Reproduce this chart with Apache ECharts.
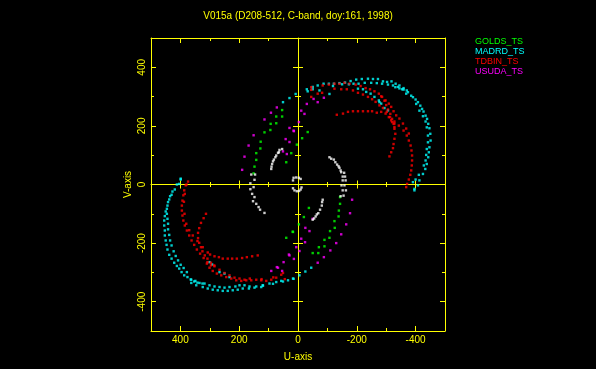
<!DOCTYPE html>
<html><head><meta charset="utf-8">
<script src="https://cdn.jsdelivr.net/npm/echarts@6/dist/echarts.min.js"></script>
<style>html,body{margin:0;padding:0;background:#000;}#c{width:596px;height:369px;}</style>
</head><body><div id="c"></div>
<script>
const titleText = 'V015a (D208-512, C-band, doy:161, 1998)';
const stationNames = ['GOLDS_TS', 'MADRD_TS', 'TDBIN_TS', 'USUDA_TS'];
const majorTicks = [-400, -200, 0, 200, 400];
const minorTicks = [-300, -100, 100, 300];

// GOLDS_TS (green) u,v
const goldsUpper = [[54,254],[54,232],[74,232],[74,209],[93,207],[94,186],[114,178],[127,146],[128,123],[142,107],[142,84],[148,61],[151,38],[4,136],[23,107],[40,76],[-14,158],[-33,179]];
const goldsLower = [[-143,-43],[-143,-66],[-139,-89],[-138,-109],[-124,-125],[-125,-148],[-109,-159],[-107,-182],[-90,-189],[-90,-211],[-71,-214],[-69,-234],[-50,-234],[-37,-80],[-20,-111],[-3,-136],[18,-161],[40,-182],[17,-162]];

// MADRD_TS (cyan)
const madrdUpperA = [[51,281],[29,295],[8,309],[-30,325],[-50,333],[-67,338],[-87,344],[-105,344],[-122,344],[-141,346],[-160,348],[-179,353],[-198,358],[-217,360],[-238,361],[-255,360],[-272,360],[-289,352],[-303,350],[-318,352],[-332,344],[-345,338],[-359,329],[-370,321],[-374,315],[-385,303],[-391,298],[-400,290],[-408,281],[-416,269],[-422,258],[-427,249],[-434,235],[-439,224],[-443,207],[-447,192],[-450,173],[-451,150],[-447,127],[-445,110],[-443,93],[-438,70],[-433,53],[-425,36],[-411,33],[-400,17],[-408,-3],[-396,-20]];
const madrdUpperB = [[-50,325],[-119,336],[-150,342],[-173,342],[-189,344],[-206,344],[-227,347],[-249,347],[-268,346],[-286,344],[-306,341],[-323,338],[-340,333],[-354,325],[-368,310],[-331,332],[-345,328],[-359,324],[-402,275],[-413,252],[-425,233],[-434,215],[-438,195],[-442,167],[-442,144],[-438,121],[-436,101],[-434,82],[-428,65],[-413,14],[-391,8],[-396,-15]];
const madrdUpperC = [[-33,318],[-73,321],[-107,309],[-204,327],[-221,325],[-232,316],[-247,310],[-260,299],[-275,287],[-283,276],[-294,261],[-306,253],[-277,281]];
const madrdLowerA = [[399,20],[412,0],[399,17],[404,2],[419,-17],[430,-35],[438,-51],[444,-72],[450,-92],[453,-108],[455,-123],[455,-140],[453,-157],[453,-174],[450,-191],[447,-206],[444,-222],[438,-240],[430,-253],[421,-267],[412,-278],[404,-287],[396,-299],[387,-310],[376,-316],[365,-324],[353,-331],[342,-335],[325,-338],[363,-336],[346,-344],[324,-350],[307,-355],[290,-359],[273,-361],[256,-363],[239,-363],[222,-361],[205,-359],[188,-355],[167,-355],[148,-352],[125,-350],[119,-345],[85,-339],[51,-331],[15,-322],[-5,-310],[-25,-297],[-45,-284]];
const madrdLowerB = [[427,-24],[435,-40],[442,-60],[446,-83],[446,-100],[444,-117],[442,-134],[442,-153],[438,-172],[435,-191],[430,-208],[423,-228],[416,-244],[408,-259],[399,-274],[389,-285],[378,-299],[363,-325],[349,-329],[335,-336],[318,-338],[301,-344],[284,-348],[267,-350],[250,-352],[233,-350],[213,-348],[199,-344],[182,-344],[165,-348],[142,-348],[120,-344],[97,-338],[74,-333],[57,-329],[34,-327],[17,-321]];
const madrdLowerC = [[301,-265],[292,-273],[267,-299],[250,-304],[233,-316]];

// TDBIN_TS (red)
const tdbinUpper1 = [[-45,332],[-84,338],[-105,341],[-124,344],[-141,344],[-158,347],[-175,344],[-196,341],[-213,336],[-230,329],[-245,325],[-260,318],[-275,310],[-286,299],[-298,287],[-309,276],[-317,265],[-325,250],[-334,236],[-345,225],[-357,208],[-368,191],[-377,174],[-328,215],[-343,201],[-359,184],[-370,167],[-377,150],[-383,133],[-386,116],[-388,99],[-388,82],[-387,65],[-385,48],[-382,33],[-377,17],[-371,2],[-368,-9]];
const tdbinUpper2 = [[-45,323],[-45,299],[-67,310],[-82,313],[-124,327],[-147,325],[-166,325],[-187,321],[-204,313],[-221,307],[-238,299],[-252,291],[-264,282],[-277,270],[-289,261],[-302,248],[-313,230],[-320,213],[-328,196],[-283,301],[-294,286],[-300,271],[-306,256],[-314,241],[-320,224],[-325,207],[-328,190],[-331,173],[-328,156],[-325,138],[-323,124],[-317,110],[-311,96]];
const tdbinUpper3 = [[-132,238],[-153,242],[-170,248],[-187,250],[-204,250],[-221,250],[-238,250],[-252,250],[-268,245],[-283,248],[-298,242],[-309,230],[-317,219],[-328,208]];
const tdbinLower1 = [[374,10],[382,-3],[387,-20],[390,-37],[393,-55],[395,-72],[395,-89],[393,-106],[390,-123],[385,-140],[378,-157],[370,-174],[362,-191],[353,-206],[344,-222],[333,-236],[321,-251],[308,-265],[296,-276],[310,-270],[301,-284],[290,-295],[276,-304],[261,-310],[244,-316],[227,-321],[210,-327],[193,-329],[176,-327],[159,-327],[142,-325],[125,-327],[108,-329],[91,-325],[74,-318],[57,-308]];
const tdbinLower2 = [[313,-100],[321,-115],[330,-131],[336,-149],[340,-165],[340,-183],[336,-199],[330,-214],[325,-228],[317,-242],[308,-253],[296,-267],[285,-276],[284,-279],[267,-291],[250,-302],[233,-310],[216,-318],[199,-321],[182,-325],[164,-321],[124,-323],[84,-317],[45,-323],[51,-302]];
const tdbinLower3 = [[379,0],[385,-32],[388,-59],[386,-100],[380,-134],[370,-156],[358,-174],[342,-193],[324,-214],[307,-232],[299,-239],[284,-245],[269,-248],[256,-253],[239,-253],[224,-253],[208,-253],[190,-251],[174,-248],[156,-245],[137,-242]];

// USUDA_TS (magenta)
const usudaUpper = [[72,263],[92,245],[114,222],[151,168],[168,133],[182,95],[190,50],[29,193],[14,182],[42,155],[29,145],[51,113],[38,104],[-53,292],[-67,281],[-88,296],[-30,275],[-22,241],[-11,252],[-3,213],[15,184]];
const usudaLower = [[-184,-52],[-177,-98],[-164,-136],[-147,-170],[-130,-200],[-110,-225],[-88,-248],[-67,-267],[-50,-117],[-39,-159],[-25,-148],[-11,-185],[-24,-197],[-5,-227],[14,-254],[29,-242],[49,-265],[31,-239],[6,-214],[91,-295],[68,-284],[54,-295],[72,-282]];

// other baselines (white)
const otherUpperRight = [[-107,93],[-113,88],[-122,85],[-127,76],[-133,68],[-138,62],[-141,57],[-145,48],[-147,42],[-157,40],[-152,27],[-160,27],[-152,14],[-162,14],[-158,-3],[-148,-3],[-152,-20],[-163,-20],[-155,-38],[-145,-40]];
const otherUpperLeft = [[54,121],[63,118],[65,110],[68,108],[74,99],[77,93],[82,85],[85,79],[88,70],[90,61],[91,53]];
const otherLowerLeft = [[159,34],[146,34],[148,16],[162,4],[151,-9],[162,-16],[156,-32],[148,-43],[153,-57],[142,-66],[134,-77],[129,-86],[114,-97]];
const otherLowerRight = [[-84,-52],[-82,-60],[-81,-72],[-75,-86],[-69,-98],[-64,-102],[-60,-109],[-55,-116],[-50,-120]];
const otherCentre = [[15,23],[6,24],[-3,23],[-9,19],[17,14],[17,-13],[12,-20],[4,-23],[-4,-22],[-9,-17],[-12,-10]];

const COLORS = { GOLDS_TS: '#00ff00', MADRD_TS: '#00ffff', TDBIN_TS: '#ff0000', USUDA_TS: '#ff00ff', other: '#ffffff' };
const YEL = '#ffff00';
const FONT = 'Liberation Sans';

const seriesData = {
  GOLDS_TS: goldsUpper.concat(goldsLower),
  MADRD_TS: madrdUpperA.concat(madrdUpperB, madrdUpperC, madrdLowerA, madrdLowerB, madrdLowerC),
  TDBIN_TS: tdbinUpper1.concat(tdbinUpper2, tdbinUpper3, tdbinLower1, tdbinLower2, tdbinLower3),
  USUDA_TS: usudaUpper.concat(usudaLower),
  other: otherUpperRight.concat(otherUpperLeft, otherLowerLeft, otherLowerRight, otherCentre)
};

function makeAxis(dim, position, ticks, len, inside, lineShow, onZero, withLabels) {
  const a = {
    type: 'value', min: -500, max: 500, gridIndex: 0, position: position,
    inverse: dim === 'x',
    splitLine: { show: false },
    axisLine: { show: lineShow, onZero: onZero, lineStyle: { color: YEL, width: 1 } },
    axisTick: { show: true, inside: inside, length: len, customValues: ticks, lineStyle: { color: YEL, width: 1 } },
    axisLabel: { show: false }
  };
  if (onZero) a.axisLine.onZeroAxisIndex = 0;
  if (withLabels) {
    a.axisLabel = { show: true, customValues: majorTicks, color: YEL, fontFamily: FONT, fontSize: 10, margin: 4 };
    if (dim === 'y') { a.axisLabel.rotate = 90; }
    a.name = dim === 'x' ? 'U-axis' : 'V-axis';
    a.nameLocation = 'middle';
    a.nameTextStyle = { color: YEL, fontFamily: FONT, fontSize: 10 };
    a.nameGap = dim === 'x' ? 21 : 18;
    if (dim === 'y') a.nameRotate = 90;
  }
  return a;
}

const xAxes = [
  makeAxis('x', 'bottom', majorTicks, 5, true, true, false, true),
  makeAxis('x', 'bottom', minorTicks, 3, true, false, false, false),
  makeAxis('x', 'top', majorTicks, 5, true, true, false, false),
  makeAxis('x', 'top', minorTicks, 3, true, false, false, false),
  makeAxis('x', 'bottom', majorTicks, 4, true, true, true, false),
  makeAxis('x', 'bottom', majorTicks, 4, false, false, true, false),
  makeAxis('x', 'bottom', minorTicks, 2.5, true, false, true, false),
  makeAxis('x', 'bottom', minorTicks, 2.5, false, false, true, false)
];
const yAxes = [
  makeAxis('y', 'left', majorTicks, 5, true, true, false, true),
  makeAxis('y', 'left', minorTicks, 3, true, false, false, false),
  makeAxis('y', 'right', majorTicks, 5, true, true, false, false),
  makeAxis('y', 'right', minorTicks, 3, true, false, false, false),
  makeAxis('y', 'left', majorTicks, 5, true, true, true, false),
  makeAxis('y', 'left', majorTicks, 5, false, false, true, false),
  makeAxis('y', 'left', minorTicks, 3, true, false, true, false),
  makeAxis('y', 'left', minorTicks, 3, false, false, true, false)
];

const series = Object.keys(seriesData).map(function (name) {
  return {
    type: 'scatter', name: name, xAxisIndex: 0, yAxisIndex: 0,
    data: seriesData[name], symbol: 'rect', symbolSize: 2.4,
    itemStyle: { color: COLORS[name] }, silent: true
  };
});

const chart = echarts.init(document.getElementById('c'), null, { renderer: 'canvas' });
chart.setOption({
  backgroundColor: '#000000',
  animation: false,
  title: { text: titleText, left: 'center', top: 11, padding: 0,
    textStyle: { color: YEL, fontFamily: FONT, fontSize: 10, fontWeight: 'normal' } },
  legend: {
    data: stationNames.map(function (n) { return { name: n, textStyle: { color: COLORS[n] } }; }),
    orient: 'vertical', left: 470, top: 37, padding: 0, itemGap: 0,
    itemWidth: 0, itemHeight: 10, icon: 'rect', selectedMode: false,
    textStyle: { fontFamily: FONT, fontSize: 9 }
  },
  grid: { left: 151, top: 38, width: 294, height: 293, containLabel: false },
  xAxis: xAxes,
  yAxis: yAxes,
  series: series
});
</script>
</body></html>
